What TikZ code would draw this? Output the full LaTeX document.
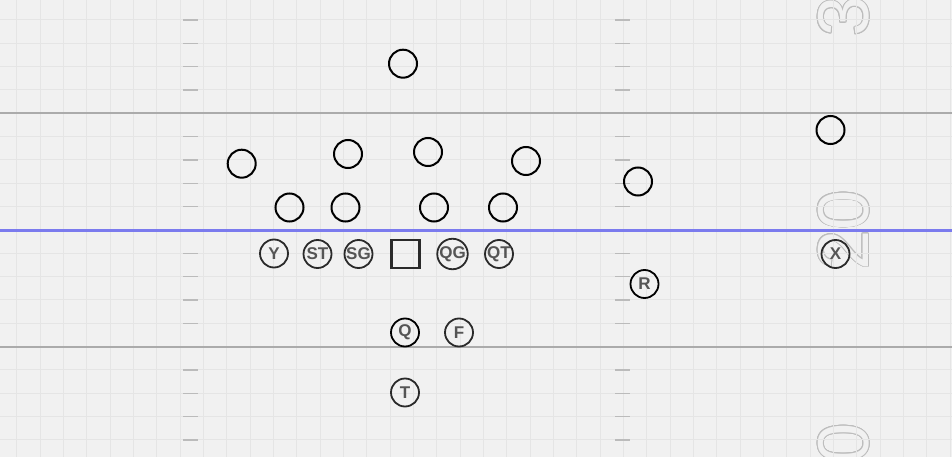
\documentclass[tikz,border=0pt]{standalone}
\usepackage{fontspec}
\setmainfont{Liberation Sans}
\usepackage{contour}
\contourlength{0.8pt}
\definecolor{bg}{HTML}{F1F1F1}
\definecolor{gridc}{HTML}{E5E5E5}
\definecolor{yardc}{HTML}{ABABAB}
\definecolor{tickc}{HTML}{BBBBBB}
\definecolor{losc}{HTML}{7B7BEE}
\definecolor{numc}{HTML}{BDBDBD}
\definecolor{offc}{HTML}{2A2A2A}
\definecolor{offtext}{HTML}{555555}
\tikzset{
  gridline/.style={gridc, line width=1pt},
  yardline/.style={yardc, line width=2pt},
  losline/.style={losc, line width=3pt},
  hashmark/.style={tickc, line width=1.5pt},
  yardnum/.style={rotate=90, inner sep=0pt, font=\fontsize{72}{72}\selectfont},
  defender/.style={circle, draw=black, line width=2pt, minimum size=28pt, inner sep=0pt},
  offense/.style={circle, draw=offc, line width=1.8pt, minimum size=28pt, inner sep=0pt,
    text=offtext, font=\bfseries\fontsize{17}{17}\selectfont},
  centerbox/.style={rectangle, draw=offc, line width=2.4pt, minimum size=28pt, inner sep=0pt}
}
\begin{document}
\begin{tikzpicture}[x=1pt, y=-1pt]
\useasboundingbox (0,0) rectangle (952,457);
\fill[bg] (0,0) rectangle (952,457);
% yard numbers
\node[yardnum] (n30) at (844,-3.3) {\contour{numc}{\textcolor{bg}{30}}};
\node[yardnum] (n20) at (844,230) {\contour{numc}{\textcolor{bg}{20}}};
\node[yardnum] (n10) at (844,463.3) {\contour{numc}{\textcolor{bg}{10}}};
% grid
\foreach \i in {0,...,40} \draw[gridline] ({16.667+23.333*\i},0) -- ++(0,457);
\foreach \j in {0,...,20} \draw[gridline] (0,{-3.333+23.333*\j}) -- ++(952,0);
% hash marks
\foreach \k in {0,1,2,3,5,6,7,8,10,11,12,13,15,16,17,18} {
  \draw[hashmark] (183,{20+23.333*\k}) -- ++(15,0);
  \draw[hashmark] (615,{20+23.333*\k}) -- ++(15,0);
}
% yard lines
\draw[yardline] (0,113.3) -- (952,113.3);
\draw[yardline] (0,346.7) -- (952,346.7);
\draw[losline] (0,230.5) -- (952,230.5);
% defenders
\node[defender] (d1) at (403,63.7) {};
\node[defender] (d2) at (241.7,163.7) {};
\node[defender] (d3) at (348,154) {};
\node[defender] (d4) at (428,152) {};
\node[defender] (d5) at (526,161) {};
\node[defender] (d6) at (830.5,130) {};
\node[defender] (d7) at (638,181.5) {};
\node[defender] (d8) at (289.5,207.5) {};
\node[defender] (d9) at (345.5,207.5) {};
\node[defender] (d10) at (434,207.5) {};
\node[defender] (d11) at (503,207.5) {};
% offense
\node[centerbox] (C) at (405.3,253.7) {};
\node[offense] (Y) at (274,253.5) {Y};
\node[offense] (ST) at (317.5,254) {ST};
\node[offense] (SG) at (358.5,254) {SG};
\node[offense] (QG) at (452.5,254) {QG};
\node[offense] (QT) at (499,254) {QT};
\node[offense] (X) at (835.5,254) {X};
\node[offense, draw=black] (R) at (644.5,284) {R};
\node[offense, draw=black] (Q) at (405,332.5) {Q};
\node[offense] (F) at (459,332.5) {F};
\node[offense] (T) at (405,392.5) {T};
\end{tikzpicture}
\end{document}
